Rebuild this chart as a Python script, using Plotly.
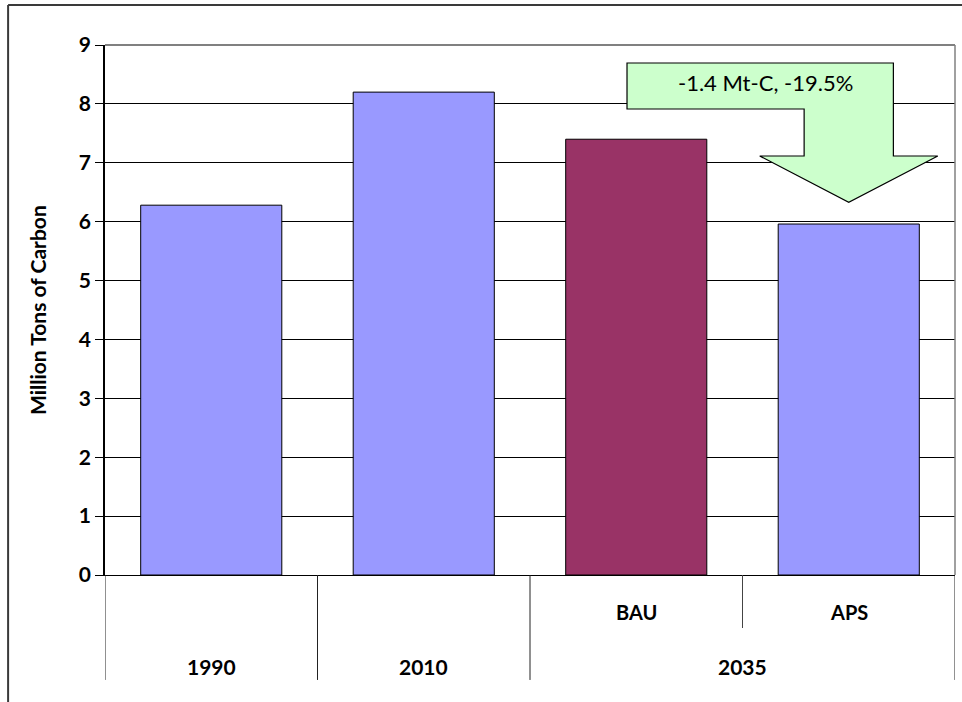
import plotly.graph_objects as go

# Carbon emissions by year / scenario (million tons of carbon)
years = ["1990", "2010", "2035", "2035"]
scenarios = ["", "", "BAU", "APS"]
emissions = [6.28, 8.20, 7.40, 5.96]
bar_colors = ["#9999FF", "#9999FF", "#993366", "#9999FF"]
y_ticks = list(range(0, 10))

FONT = "Lato, 'Open Sans', Arial, sans-serif"

bau, aps = emissions[2], emissions[3]
change = aps - bau
change_pct = change / bau * 100
arrow_text = f"{change:.1f} Mt-C, {change_pct:.1f}%"

xs = list(range(len(emissions)))

fig = go.Figure()
fig.add_trace(go.Bar(
    x=xs, y=emissions, width=0.664,
    marker=dict(color=bar_colors, line=dict(color="black", width=1)),
    hoverinfo="y",
))

shapes = []
annotations = []

# plot-area frame: grey on top and right
shapes.append(dict(type="line", xref="paper", yref="paper", x0=0, x1=1, y0=1, y1=1,
                   line=dict(color="#808080", width=2), layer="above"))
shapes.append(dict(type="line", xref="paper", yref="paper", x0=1, x1=1, y0=0, y1=1,
                   line=dict(color="#808080", width=1.5), layer="above"))

# outer chart border
shapes.append(dict(type="line", xref="paper", yref="paper", x0=-0.114, x1=1.2,
                   y0=1.0755, y1=1.0755, line=dict(color="#3a3a3a", width=2)))
shapes.append(dict(type="line", xref="paper", yref="paper", x0=-0.114, x1=-0.114,
                   y0=1.0755, y1=-0.4, line=dict(color="#3a3a3a", width=2)))

# category dividers below the axis
outer_depth = -0.198
inner_depth = -0.10
for xb in [-0.5, 0.5, 1.5, 3.5]:
    shapes.append(dict(type="line", xref="x", yref="paper", x0=xb, x1=xb,
                       y0=0, y1=outer_depth, line=dict(color="#222222", width=1)))
shapes.append(dict(type="line", xref="x", yref="paper", x0=2.5, x1=2.5,
                   y0=0, y1=inner_depth, line=dict(color="#444444", width=1)))

# two-level category labels
for i, s in enumerate(scenarios):
    if s:
        annotations.append(dict(x=i, y=-0.07, xref="x", yref="paper", text=f"<b>{s}</b>",
                                showarrow=False, font=dict(family=FONT, size=20, color="black"),
                                xanchor="center", yanchor="middle"))
groups = {}
for i, yv in enumerate(years):
    groups.setdefault(yv, []).append(i)
for yv, idx in groups.items():
    annotations.append(dict(x=sum(idx) / len(idx), y=-0.172, xref="x", yref="paper",
                            text=f"<b>{yv}</b>", showarrow=False,
                            font=dict(family=FONT, size=21, color="black"),
                            xanchor="center", yanchor="middle"))

# y-axis title
annotations.append(dict(x=-0.08, y=0.5, xref="paper", yref="paper",
                        text="<b>Million Tons of Carbon</b>", textangle=-90,
                        showarrow=False, font=dict(family=FONT, size=21, color="black"),
                        xanchor="center", yanchor="middle"))

# bent call-out arrow pointing at the APS bar
tip_x = 3
tip_y = aps + 0.37
head_y = 7.115
head_half = 0.419
shaft_half = 0.21
box_left, box_bottom, box_top = 1.9565, 7.913, 8.694
shaft_l, shaft_r = tip_x - shaft_half, tip_x + shaft_half
pts = [(box_left, box_top), (shaft_r, box_top), (shaft_r, head_y),
       (tip_x + head_half, head_y), (tip_x, tip_y), (tip_x - head_half, head_y),
       (shaft_l, head_y), (shaft_l, box_bottom), (box_left, box_bottom)]
path = "M " + " L ".join(f"{px},{py}" for px, py in pts) + " Z"
shapes.append(dict(type="path", xref="x", yref="y", path=path,
                   fillcolor="#CCFFCC", line=dict(color="black", width=1.2), layer="above"))
annotations.append(dict(x=2.606, y=8.37, xref="x", yref="y", text=arrow_text,
                        showarrow=False, font=dict(family=FONT, size=22, color="black"),
                        xanchor="center", yanchor="middle"))

fig.update_layout(
    width=962, height=702,
    margin=dict(l=105, r=7, t=45, b=127),
    paper_bgcolor="white", plot_bgcolor="white",
    showlegend=False,
    shapes=shapes, annotations=annotations,
    xaxis=dict(range=[-0.5, 3.5], showticklabels=False, showgrid=False, zeroline=False,
               showline=True, linecolor="black", linewidth=1, ticks="", fixedrange=True),
    yaxis=dict(range=[0, 9], tickvals=y_ticks, ticktext=[f"<b>{v}</b>" for v in y_ticks],
               showgrid=True, gridcolor="black", gridwidth=1, zeroline=False,
               showline=True, linecolor="black", linewidth=1.5,
               ticks="outside", ticklen=8, tickcolor="black", tickwidth=1,
               tickfont=dict(family=FONT, size=21, color="black"),
               fixedrange=True),
    font=dict(family=FONT),
)

fig.write_html("out.html")
